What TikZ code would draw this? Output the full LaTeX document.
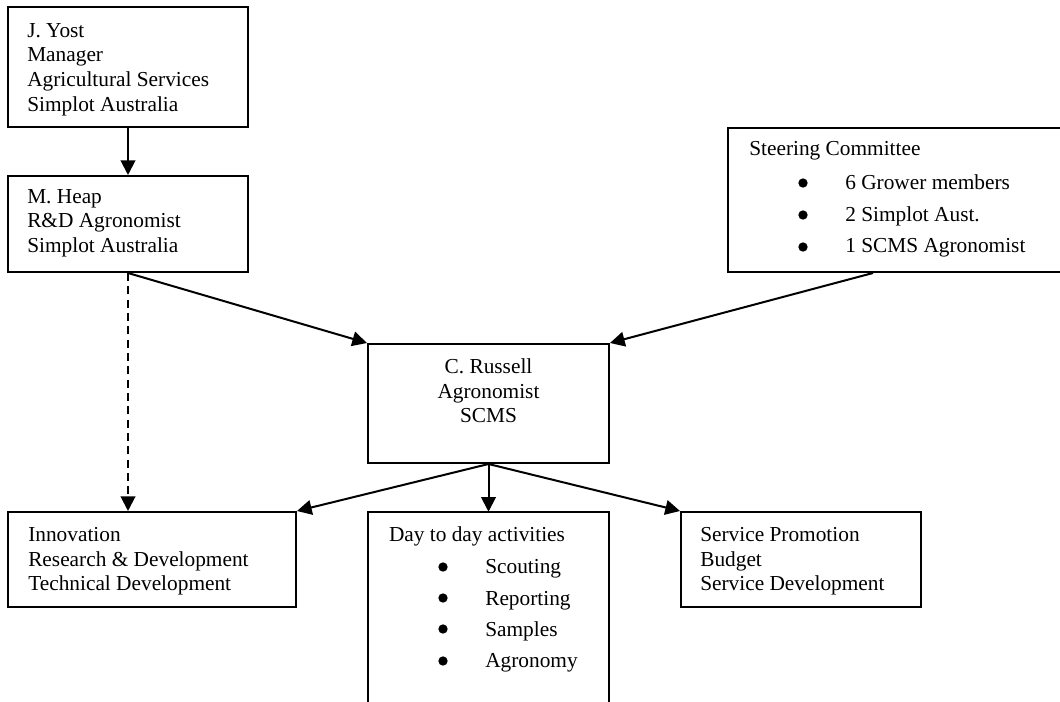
\documentclass[tikz,border=0pt]{standalone}
\usepackage{fontspec}
\setmainfont{Liberation Serif}
\usepackage{tikz}
\usetikzlibrary{arrows.meta, fit}

\begin{document}
\begin{tikzpicture}[
    x=0.75pt, y=-0.75pt,
    font=\fontsize{16}{18.5}\selectfont,
    box/.style={draw, line width=1.5pt, inner sep=0pt},
    txt/.style={align=left, inner sep=0pt, anchor=north west},
    item/.style={inner sep=0pt, anchor=base west},
    dot/.style={circle, fill, inner sep=0pt, minimum size=7pt},
    arr/.style={-{Triangle[length=11pt, width=11pt]}, line width=1.5pt}
]
\useasboundingbox (0,0) rectangle (1060,702);
% boxes
\node[box, fit={(8,7) (248,127)}] (yost) {};
\node[box, fit={(8,176) (248,272)}] (heap) {};
\node[box, fit={(728,128) (1064,272)}] (steer) {};
\node[box, fit={(368,344) (609,463)}] (russell) {};
\node[box, fit={(8,512) (296,607)}] (innov) {};
\node[inner sep=0pt, fit={(368,512) (609,702)}] (day) {};
\draw[line width=1.5pt] (day.south west) |- (day.north east) -- (day.south east);
\node[box, fit={(681,512) (921,607)}] (serv) {};

% texts
\node[txt] (yostT) at ([shift={(20,17)}]yost.north west) {J. Yost\\ Manager\\ Agricultural Services\\ Simplot Australia};
\node[txt] (heapT) at ([shift={(20,14)}]heap.north west) {M. Heap\\ R\&D Agronomist\\ Simplot Australia};
\node[item] (steerT) at ([shift={(22,29)}]steer.north west) {Steering Committee};
\node[dot] (s1) at (803,183) {};
\node[item] (s1T) at (845,190) {6 Grower members};
\node[dot] (s2) at (803,215) {};
\node[item] (s2T) at (845,222) {2 Simplot Aust.};
\node[dot] (s3) at (803,247) {};
\node[item] (s3T) at (845,253) {1 SCMS Agronomist};
\node[txt, align=center, anchor=north] (russellT) at ([shift={(0,15.5)}]russell.north) {C. Russell\\ Agronomist\\ SCMS};
\node[txt] (innovT) at ([shift={(21,16)}]innov.north west) {Innovation\\ Research \& Development\\ Technical Development};
\node[item] (dayT) at ([shift={(21,30)}]day.north west) {Day to day activities};
\node[dot] (d1) at (443,567) {};
\node[item] (d1T) at (485,573) {Scouting};
\node[dot] (d2) at (443,598) {};
\node[item] (d2T) at (485,605) {Reporting};
\node[dot] (d3) at (443,629) {};
\node[item] (d3T) at (485,636) {Samples};
\node[dot] (d4) at (443,661) {};
\node[item] (d4T) at (485,667) {Agronomy};
\node[txt] (servT) at ([shift={(20,16)}]serv.north west) {Service Promotion\\ Budget\\ Service Development};

% connectors
\draw[arr] (yost) -- (heap);
\draw[arr] (heap.south) -- (russell.north west);
\draw[arr] ([shift={(-23,0)}]steer.south) -- (russell.north east);
\draw[arr, dash pattern=on 6pt off 4pt] (heap.south) -- (heap.south |- innov.north);
\draw[arr] (russell.south) -- (innov.north east);
\draw[arr] (russell.south) -- (day.north);
\draw[arr] (russell.south) -- (serv.north west);
\end{tikzpicture}
\end{document}
